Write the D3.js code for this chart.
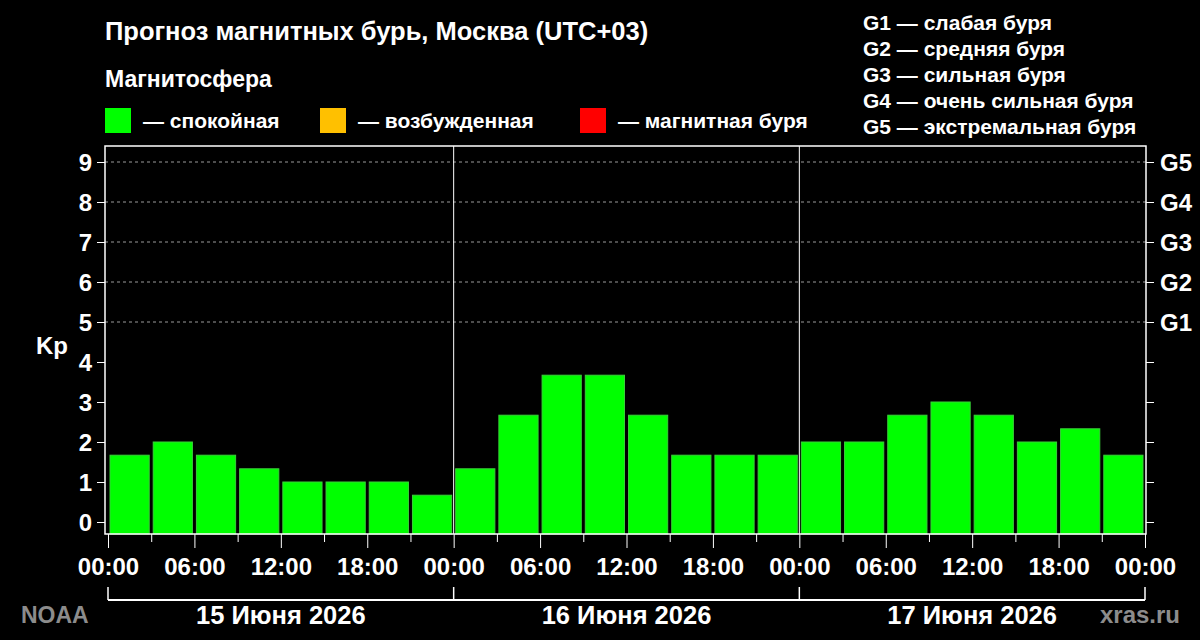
<!DOCTYPE html>
<html>
<head>
<meta charset="utf-8">
<script src="https://cdn.jsdelivr.net/npm/d3@7"></script>
<style>
  body { margin: 0; background: #000; }
  text { font-family: "Liberation Sans", Arial, sans-serif; font-weight: bold; fill: #fff; }
</style>
</head>
<body>
<div id="chart"></div>
<script>
//// data
var kp = [1.67, 2, 1.67, 1.33, 1, 1, 1, 0.67,
          1.33, 2.67, 3.67, 3.67, 2.67, 1.67, 1.67, 1.67,
          2, 2, 2.67, 3, 2.67, 2, 2.33, 1.67];
var hourTicks = ["00:00", "06:00", "12:00", "18:00"];
var days = ["15 Июня 2026", "16 Июня 2026", "17 Июня 2026"];
var kpTicks = [0, 1, 2, 3, 4, 5, 6, 7, 8, 9];
var gLabels = ["G1", "G2", "G3", "G4", "G5"];
var gText = ["слабая буря", "средняя буря", "сильная буря", "очень сильная буря", "экстремальная буря"];
var levels = ["спокойная", "возбужденная", "магнитная буря"];
var levelColors = ["#00ff00", "#ffc000", "#ff0000"];

var W = 1200, H = 640;
var svg = d3.select("#chart").append("svg")
    .attr("width", W).attr("height", H);

svg.append("rect").attr("width", W).attr("height", H).attr("fill", "#000");

//// scales
var x = d3.scaleLinear().domain([0, 72]).range([108, 1145]);
var y = d3.scaleLinear().domain([-0.3, 9.4]).range([534, 146]);
var left = 105, right = 1146;

function kpColor(v) {
  if (v >= 5) return levelColors[2];
  if (v >= 4) return levelColors[1];
  return levelColors[0];
}

//// grid (storm levels)
svg.selectAll(".grid")
    .data(kpTicks.filter(function(d) { return d >= 5; }))
  .enter().append("line")
    .attr("x1", left).attr("x2", right)
    .attr("y1", function(d) { return y(d); })
    .attr("y2", function(d) { return y(d); })
    .attr("stroke", "#9a9a9a").attr("stroke-width", 1)
    .attr("stroke-dasharray", "3,3");

//// bars
svg.selectAll(".bar")
    .data(kp)
  .enter().append("rect")
    .attr("x", function(d, i) { return x(i * 3) + 2; })
    .attr("width", function(d, i) { return x(i * 3 + 3) - x(i * 3) - 4; })
    .attr("y", function(d) { return y(d); })
    .attr("height", function(d) { return y(-0.3) - y(d); })
    .attr("fill", kpColor)
    .attr("stroke", "#3ad03a").attr("stroke-width", 1);

//// day separators
svg.selectAll(".sep")
    .data([24, 48])
  .enter().append("line")
    .attr("x1", function(d) { return x(d); }).attr("x2", function(d) { return x(d); })
    .attr("y1", y.range()[1]).attr("y2", y.range()[0])
    .attr("stroke", "#fff").attr("stroke-width", 1);

//// frame
svg.append("rect")
    .attr("x", left).attr("y", 146)
    .attr("width", right - left).attr("height", 534 - 146)
    .attr("fill", "none").attr("stroke", "#fff").attr("stroke-width", 1.5);

//// left axis
var yl = svg.append("g").attr("transform", "translate(" + left + ",0)")
  .call(d3.axisLeft(y).tickValues(kpTicks).tickSize(8).tickPadding(5));
yl.select(".domain").remove();
yl.selectAll("line").attr("stroke", "#fff");
yl.selectAll("text").style("font-size", "24px").attr("fill", "#fff").attr("dy", "0.36em");

//// right axis (G levels)
var yr = svg.append("g").attr("transform", "translate(" + right + ",0)")
  .call(d3.axisRight(y).tickValues(kpTicks).tickSize(8).tickPadding(6)
    .tickFormat(function(d) { return d >= 5 ? gLabels[d - 5] : ""; }));
yr.select(".domain").remove();
yr.selectAll("line").attr("stroke", "#fff");
yr.selectAll("text").style("font-size", "24px").attr("fill", "#fff").attr("dy", "0.36em");

//// bottom axis
var hours = d3.range(0, 73, 3);
var xb = svg.append("g").attr("transform", "translate(0,534)")
  .call(d3.axisBottom(x).tickValues(hours).tickSize(8).tickPadding(16)
    .tickFormat(function(d) { return d % 6 === 0 ? hourTicks[(d % 24) / 6] : ""; }));
xb.select(".domain").remove();
xb.selectAll("line").attr("stroke", "#fff")
  .attr("y2", function(d) { return d % 6 === 0 ? 14 : 8; });
xb.selectAll("text").style("font-size", "24px").attr("fill", "#fff");

//// day bracket
var bracketY = 600;
svg.append("line")
    .attr("x1", x(0)).attr("x2", x(72))
    .attr("y1", bracketY).attr("y2", bracketY)
    .attr("stroke", "#fff").attr("stroke-width", 2);
svg.selectAll(".btick")
    .data([0, 24, 48, 72])
  .enter().append("line")
    .attr("x1", function(d) { return x(d); }).attr("x2", function(d) { return x(d); })
    .attr("y1", bracketY - 13).attr("y2", bracketY)
    .attr("stroke", "#fff").attr("stroke-width", 1.5);
svg.selectAll(".day")
    .data(days)
  .enter().append("text")
    .attr("x", function(d, i) { return x(i * 24 + 12); })
    .attr("y", 624)
    .attr("text-anchor", "middle")
    .style("font-size", "25.5px")
    .text(function(d) { return d; });

//// titles
svg.append("text").attr("x", 105).attr("y", 40).style("font-size", "25.5px")
  .text("Прогноз магнитных бурь, Москва (UTC+03)");
svg.append("text").attr("x", 105).attr("y", 87).style("font-size", "23px")
  .text("Магнитосфера");
svg.append("text").attr("x", 68).attr("y", 354).attr("text-anchor", "end").style("font-size", "24px")
  .text("Kp");

//// legend
var legendX = [105, 320, 580];
var lg = svg.selectAll(".leg")
    .data(levels)
  .enter().append("g")
    .attr("transform", function(d, i) { return "translate(" + legendX[i] + ",108)"; });
lg.append("rect").attr("width", 26).attr("height", 25)
  .attr("fill", function(d, i) { return levelColors[i]; });
lg.append("text").attr("x", 38).attr("y", 20).style("font-size", "21px")
  .text(function(d) { return "— " + d; });

//// G legend
svg.selectAll(".gleg")
    .data(gLabels)
  .enter().append("text")
    .attr("x", 863)
    .attr("y", function(d, i) { return 30 + i * 26; })
    .style("font-size", "21px")
    .text(function(d, i) { return d + " — " + gText[i]; });

//// credits
svg.append("text").attr("x", 21).attr("y", 623).style("font-size", "23px")
  .style("fill", "#8c8c8c").text("NOAA");
svg.append("text").attr("x", 1180).attr("y", 623).attr("text-anchor", "end").style("font-size", "24px")
  .style("fill", "#8c8c8c").text("xras.ru");
</script>
</body>
</html>
